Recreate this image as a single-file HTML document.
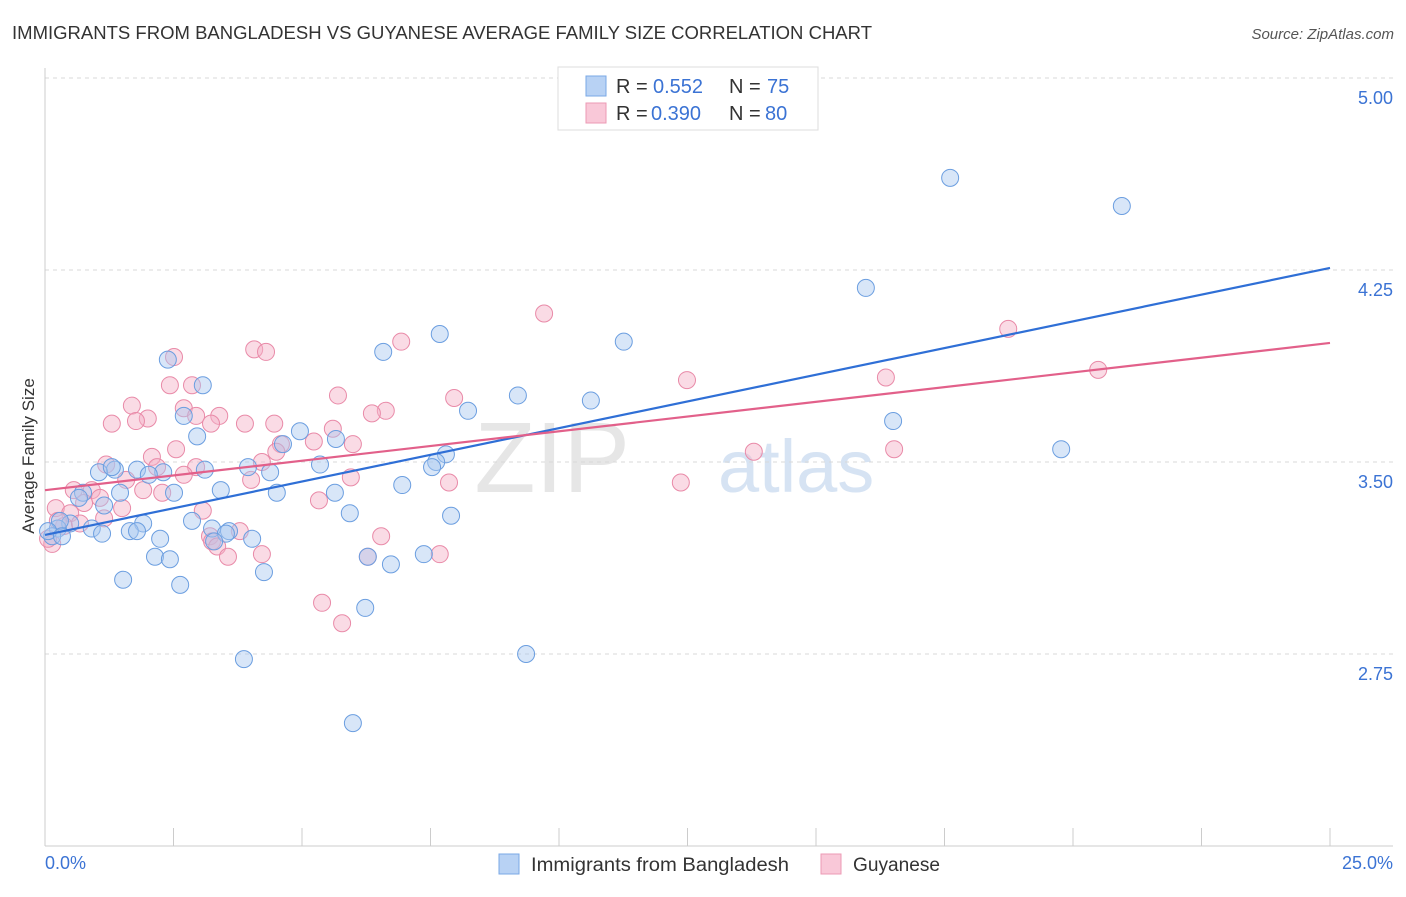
<!DOCTYPE html>
<html><head><meta charset="utf-8"><style>
body{margin:0;background:#fff;font-family:"Liberation Sans",sans-serif;}
svg text{font-family:"Liberation Sans",sans-serif;}
</style></head><body>
<svg id="chart" width="1406" height="892">
<text x="12" y="39" font-size="18" fill="#333" textLength="860" lengthAdjust="spacingAndGlyphs">IMMIGRANTS FROM BANGLADESH VS GUYANESE AVERAGE FAMILY SIZE CORRELATION CHART</text>
<text x="1394" y="39" font-size="15" fill="#555" font-style="italic" text-anchor="end">Source: ZipAtlas.com</text>
<text x="630" y="492" font-size="100" fill="#e6e6e6" font-family="Liberation Serif" text-anchor="end">ZIP</text>
<text x="718" y="492" font-size="74" fill="#d6e3f3">atlas</text>
<g id="grid"></g>
<g id="axes"></g>
<g id="pts"></g>
<g id="lines"></g>
<text transform="translate(34,456) rotate(-90)" font-size="17" fill="#333" text-anchor="middle">Average Family Size</text>
<text x="45" y="869" font-size="18" fill="#3b73d4">0.0%</text>
<text x="1393" y="869" font-size="18" fill="#3b73d4" text-anchor="end">25.0%</text>
<g>
<rect x="558" y="67" width="260" height="63" fill="#fff" stroke="#ddd"/>
<rect x="586" y="76" width="20" height="20" fill="#b8d2f4" stroke="#7aa8e6"/>
<text x="616" y="93" font-size="20" fill="#333">R = </text><text x="653" y="93" font-size="20" fill="#3b73d4">0.552</text>
<text x="729" y="93" font-size="20" fill="#333">N = </text><text x="767" y="93" font-size="20" fill="#3b73d4">75</text>
<rect x="586" y="103" width="20" height="20" fill="#f9c8d8" stroke="#ec9ab4"/>
<text x="616" y="120" font-size="20" fill="#333">R = </text><text x="651" y="120" font-size="20" fill="#3b73d4">0.390</text>
<text x="729" y="120" font-size="20" fill="#333">N = </text><text x="765" y="120" font-size="20" fill="#3b73d4">80</text>
</g>
<g>
<rect x="499" y="854" width="20" height="20" fill="#b8d2f4" stroke="#7aa8e6"/>
<text x="531" y="871" font-size="19" fill="#333" textLength="258" lengthAdjust="spacingAndGlyphs">Immigrants from Bangladesh</text>
<rect x="821" y="854" width="20" height="20" fill="#f9c8d8" stroke="#ec9ab4"/>
<text x="853" y="871" font-size="19" fill="#333" textLength="87" lengthAdjust="spacingAndGlyphs">Guyanese</text>
</g>
</svg>
<script>
const yTicks=[5.00,4.25,3.50,2.75];
const xTicks=[0,2.5,5,7.5,10,12.5,15,17.5,20,22.5,25];
const blueX=[17.61,20.95,15.97,11.26,7.68,6.58,2.39,3.07,9.20,10.62,8.23,16.50,2.70,2.96,4.96,4.63,5.66,19.77,7.80,7.61,7.53,5.35,3.95,4.38,3.11,2.30,1.79,1.36,1.05,2.02,1.30,6.95,3.42,4.51,5.64,2.51,0.74,0.66,1.46,1.15,5.93,7.90,2.86,1.91,3.58,3.25,0.49,0.91,1.65,1.79,1.11,0.25,0.14,0.29,4.03,3.52,2.24,3.29,2.14,2.43,6.28,7.37,6.73,4.26,1.52,2.63,6.23,3.87,9.36,5.99,0.06,0.33];
const blueY=[4.61,4.50,4.18,3.97,4.00,3.93,3.90,3.80,3.76,3.74,3.70,3.66,3.68,3.60,3.62,3.57,3.59,3.55,3.53,3.50,3.48,3.49,3.48,3.46,3.47,3.46,3.47,3.47,3.46,3.45,3.48,3.41,3.39,3.38,3.38,3.38,3.38,3.36,3.38,3.33,3.30,3.29,3.27,3.26,3.23,3.24,3.26,3.24,3.23,3.23,3.22,3.24,3.21,3.27,3.20,3.22,3.20,3.19,3.13,3.12,3.13,3.14,3.10,3.07,3.04,3.02,2.93,2.73,2.75,2.48,3.23,3.21];
const pinkX=[9.71,18.74,6.93,4.07,4.30,2.51,20.49,16.36,12.49,2.86,2.43,5.70,7.96,1.69,2.70,6.63,6.36,3.39,2.94,2.00,1.30,1.77,3.89,4.46,3.23,5.60,4.59,5.23,5.99,16.52,13.79,2.08,2.55,4.50,1.19,4.22,2.94,2.18,2.70,5.95,1.58,4.01,12.37,7.86,0.56,0.91,1.91,2.28,1.07,5.33,0.76,1.50,3.07,0.21,0.49,1.15,3.79,3.21,6.54,3.25,3.35,4.22,3.56,6.28,7.68,5.39,5.78,0.14,0.06,0.37,0.25,0.68];
const pinkY=[4.08,4.02,3.97,3.94,3.93,3.91,3.86,3.83,3.82,3.80,3.80,3.76,3.75,3.72,3.71,3.70,3.69,3.68,3.68,3.67,3.65,3.66,3.65,3.65,3.65,3.63,3.57,3.58,3.57,3.55,3.54,3.52,3.55,3.54,3.49,3.50,3.48,3.48,3.45,3.44,3.43,3.43,3.42,3.42,3.39,3.39,3.39,3.38,3.36,3.35,3.34,3.32,3.31,3.32,3.30,3.28,3.23,3.21,3.21,3.19,3.17,3.14,3.13,3.13,3.14,2.95,2.87,3.18,3.20,3.25,3.27,3.26];
const blueLine=[3.215,4.258];
const pinkLine=[3.39,3.965];
const NS='http://www.w3.org/2000/svg';
const X=v=>45+v*51.4, Y=v=>78+(5-v)*256;
function mk(tag,attrs,parent){const e=document.createElementNS(NS,tag);for(const k in attrs)e.setAttribute(k,attrs[k]);document.getElementById(parent).appendChild(e);return e;}
yTicks.forEach(t=>{
 const l=mk('line',{x1:45,x2:1393,y1:Y(t),y2:Y(t),stroke:'#d8d8d8','stroke-dasharray':'4,4'},'grid');
 
 
 const tx=mk('text',{x:1393,y:Y(t)+26,'font-size':18,fill:'#3b73d4','text-anchor':'end'},'grid');
 tx.textContent=t.toFixed(2);
 
 
});
const ax=mk('line',{x1:45,x2:45,y1:68,y2:846,stroke:'#ccc'},'axes');


const bx=mk('line',{x1:45,x2:1393,y1:846,y2:846,stroke:'#ccc'},'axes');


xTicks.forEach(t=>{
 const l=mk('line',{x1:X(t),x2:X(t),y1:828,y2:846,stroke:'#ccc'},'axes');
 
 
});
function pts(xs,ys,fill,stroke,name){
 xs.forEach((x,i)=>{
  const c=mk('circle',{cx:X(x),cy:Y(ys[i]),r:8.5,fill:fill,'fill-opacity':0.45,stroke:stroke,'stroke-width':1},'pts');
  
  
 });
}
pts(pinkX,pinkY,'#f5b0c6','#e98aa8','guyanese-point');
pts(blueX,blueY,'#a9c8f0','#6b9ee0','bangladesh-point');
const bl=mk('line',{x1:X(0),y1:Y(blueLine[0]),x2:X(25),y2:Y(blueLine[1]),stroke:'#2f6fd6','stroke-width':2.2},'lines');


const pl=mk('line',{x1:X(0),y1:Y(pinkLine[0]),x2:X(25),y2:Y(pinkLine[1]),stroke:'#e2608a','stroke-width':2.2},'lines');


</script>
</body></html>
